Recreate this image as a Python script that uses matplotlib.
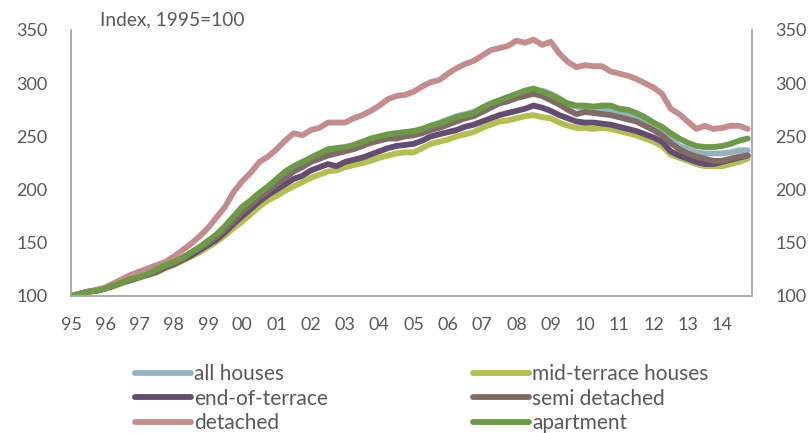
import matplotlib.pyplot as plt
from matplotlib.lines import Line2D

plt.rcParams["font.family"] = ["Lato", "DejaVu Sans"]

years = ["95", "96", "97", "98", "99", "00", "01", "02", "03", "04",
         "05", "06", "07", "08", "09", "10", "11", "12", "13", "14"]

# quarterly index values, 1995 Q1 - 2014 Q4
detached = [100, 102, 104, 106, 108, 112, 116, 120, 123, 126,
            129, 132, 137, 143, 149, 156, 164, 174, 184, 198,
            208, 216, 226, 231, 238, 246, 253, 251, 256, 258,
            263, 263, 263, 267, 270, 274, 279, 285, 288, 289,
            292, 297, 301, 303, 309, 314, 318, 321, 326, 331,
            333, 335, 340, 338, 341, 336, 339, 328, 320, 315,
            317, 316, 316, 311, 309, 307, 304, 300, 296, 290,
            276, 271, 264, 257, 260, 257, 258, 260, 260, 257]

apartment = [100, 102, 104, 105, 107, 110, 113, 116, 118, 121,
             125, 129, 132, 136, 141, 146, 152, 158, 166, 175,
             184, 190, 197, 203, 210, 217, 222, 226, 230, 234,
             238, 239, 240, 242, 245, 248, 250, 252, 253, 254,
             255, 257, 260, 262, 265, 268, 270, 272, 277, 281,
             284, 287, 290, 293, 295, 292, 289, 285, 281, 279,
             279, 278, 279, 279, 276, 275, 272, 268, 263, 259,
             253, 248, 244, 241, 240, 240, 241, 243, 246, 248]

all_houses = [100, 102, 104, 105, 107, 110, 113, 116, 118, 121,
              125, 128, 131, 135, 140, 145, 151, 157, 164, 173,
              181, 188, 195, 201, 208, 214, 220, 224, 229, 232,
              236, 238, 239, 241, 244, 247, 249, 251, 253, 254,
              255, 257, 260, 263, 266, 269, 271, 273, 277, 280,
              283, 286, 289, 292, 293, 293, 290, 286, 280, 278,
              277, 276, 275, 274, 272, 270, 268, 263, 258, 254,
              247, 241, 238, 235, 234, 234, 234, 235, 237, 237]

semi_detached = [100, 102, 104, 105, 107, 110, 113, 116, 118, 121,
                 124, 128, 131, 135, 140, 145, 150, 156, 163, 171,
                 179, 186, 193, 199, 205, 211, 217, 221, 226, 229,
                 232, 234, 236, 238, 241, 244, 246, 248, 248, 250,
                 251, 253, 256, 258, 261, 264, 267, 269, 273, 277,
                 281, 283, 286, 288, 290, 288, 284, 280, 275, 271,
                 273, 272, 271, 270, 268, 266, 264, 260, 256, 251,
                 244, 238, 234, 231, 229, 227, 227, 229, 231, 232]

end_terrace = [100, 102, 104, 105, 107, 110, 113, 115, 118, 120,
               123, 127, 130, 134, 138, 143, 148, 153, 160, 168,
               175, 182, 189, 195, 200, 205, 210, 213, 218, 221,
               224, 222, 226, 228, 230, 233, 236, 239, 241, 242,
               243, 246, 250, 252, 254, 256, 259, 261, 264, 267,
               270, 272, 274, 276, 279, 277, 274, 270, 267, 264,
               263, 263, 262, 261, 259, 257, 255, 252, 249, 245,
               236, 232, 229, 226, 224, 224, 226, 228, 230, 232]

mid_terrace = [100, 102, 104, 105, 107, 109, 112, 115, 117, 120,
               122, 126, 129, 133, 137, 141, 146, 151, 157, 164,
               170, 177, 184, 190, 194, 199, 203, 207, 211, 214,
               217, 218, 221, 223, 225, 227, 230, 232, 234, 235,
               235, 239, 243, 245, 247, 250, 252, 254, 258, 261,
               264, 265, 267, 269, 270, 268, 267, 263, 260, 258,
               258, 257, 258, 257, 255, 253, 251, 248, 245, 241,
               233, 230, 227, 224, 222, 222, 222, 224, 226, 229]

series = [
    ("all houses", all_houses, "#92b5bd"),
    ("mid-terrace houses", mid_terrace, "#b3bf4f"),
    ("end-of-terrace", end_terrace, "#644d70"),
    ("semi detached", semi_detached, "#806b65"),
    ("detached", detached, "#c48c8d"),
    ("apartment", apartment, "#6c9a47"),
]

text_col = "#595959"
spine_col = "#a6a6a6"

fig = plt.figure(figsize=(8.08, 4.33), dpi=100)
ax = fig.add_axes([71 / 808, 137 / 433, 681 / 808, 266 / 433])

handles = {}
for name, vals, col in series:
    ax.plot(range(len(vals)), vals, color=col, lw=4.2,
            solid_joinstyle="round", solid_capstyle="round")
    handles[name] = Line2D([], [], color=col, lw=4.2, solid_capstyle="round")

ax.set_xlim(0, 79.5)
ax.set_ylim(100, 350)
ax.set_yticks(range(100, 351, 50))
ax.set_xticks(range(0, 80, 4))
ax.set_xticklabels(years)

for s in ["left", "right", "bottom"]:
    ax.spines[s].set_color(spine_col)
    ax.spines[s].set_linewidth(1.3)
ax.spines["top"].set_visible(False)

ax.tick_params(axis="both", length=0, labelsize=13, colors=text_col)
ax.tick_params(axis="y", pad=17, labelright=True, right=False)
ax.tick_params(axis="x", pad=15)

fig.text(100 / 808, 1 - 20 / 433, "Index, 1995=100", color=text_col,
         fontsize=13.8, va="center", ha="left")

leg_kw = dict(loc="upper left", frameon=False, fontsize=15, handlelength=2.7,
              handletextpad=0.15, labelspacing=0.22, borderpad=0, borderaxespad=0)
col1 = ["all houses", "end-of-terrace", "detached"]
col2 = ["mid-terrace houses", "semi detached", "apartment"]
leg1 = fig.legend([handles[n] for n in col1], col1,
                  bbox_to_anchor=(135 / 808, 1 - 364 / 433), **leg_kw)
leg2 = fig.legend([handles[n] for n in col2], col2,
                  bbox_to_anchor=(473 / 808, 1 - 364 / 433), **leg_kw)
for lg in (leg1, leg2):
    for t in lg.get_texts():
        t.set_color(text_col)

fig.savefig("out.png", dpi=100)
